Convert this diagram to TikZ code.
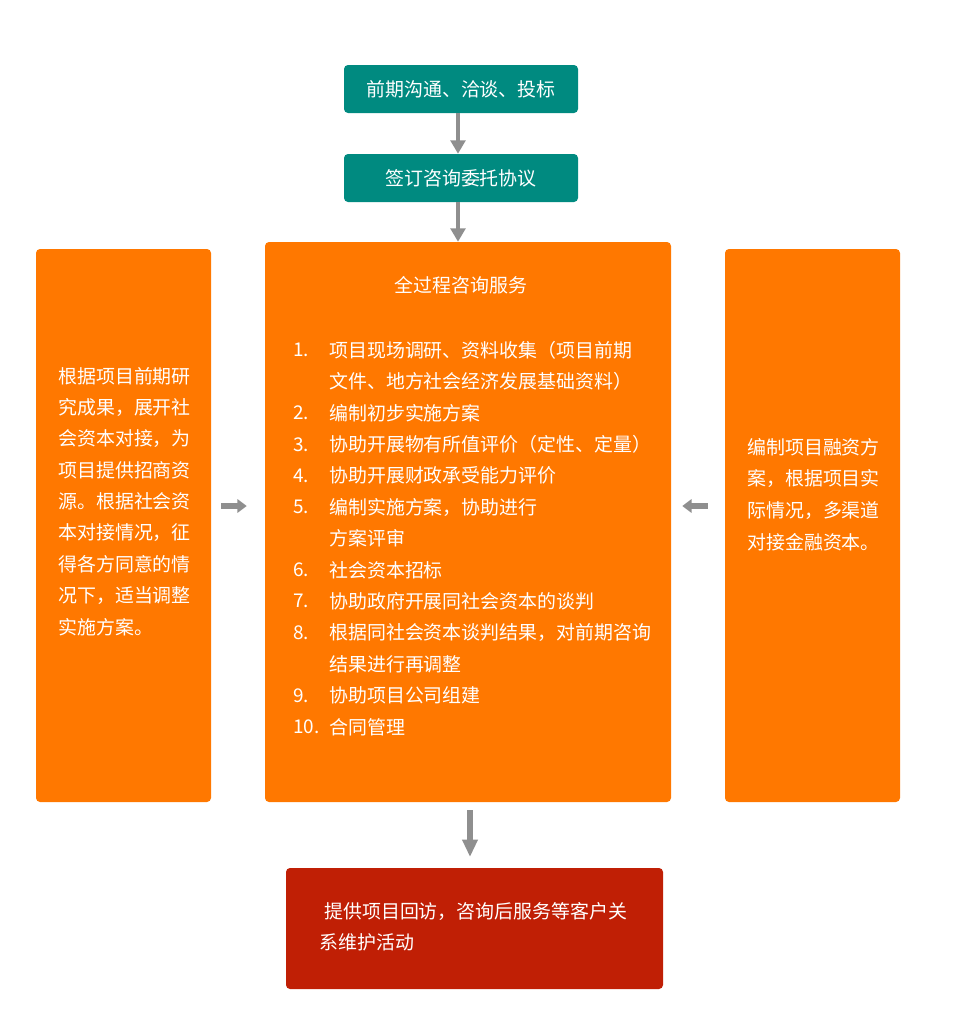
\documentclass[tikz,border=0pt]{standalone}
\usepackage{fontspec}
\setmainfont{Noto Sans CJK SC}
\usetikzlibrary{arrows.meta}
\definecolor{stepteal}{HTML}{008A80}
\definecolor{workorange}{HTML}{FF7800}
\definecolor{afterred}{HTML}{C01F05}
\definecolor{arrowgray}{HTML}{8F8F8F}
\def\px{0.75pt}
\tikzset{
  box/.style={rounded corners=3pt,inner sep=0pt,text=white,font=\fontsize{14.2}{20}\selectfont},
  txt/.style={inner sep=0pt,anchor=west,text=white,font=\fontsize{14.2}{20}\selectfont},
  flowarr/.style={arrowgray,line width=2.4pt,-{Triangle[width=11pt,length=10pt]}},
  sidearr/.style={arrowgray,line width=4pt,-{Triangle[width=10pt,length=7pt]}},
  bigarr/.style={arrowgray,line width=5.2pt,-{Triangle[width=11pt,length=13pt]}}
}
\begin{document}
\begin{tikzpicture}[x=\px,y=-\px]
\useasboundingbox (0,0) rectangle (960,1035);
% boxes
\node[box,fill=stepteal,minimum width=234*\px,minimum height=48*\px] (pre) at (461,89) {前期沟通、洽谈、投标};
\node[box,fill=stepteal,minimum width=234*\px,minimum height=48*\px] (sign) at (461,178) {签订咨询委托协议};
\node[box,fill=workorange,minimum width=406*\px,minimum height=560*\px] (full) at (468,522) {};
\node[box,fill=workorange,minimum width=175*\px,minimum height=553*\px] (left) at (123.5,525.5) {};
\node[box,fill=workorange,minimum width=175*\px,minimum height=553*\px] (right) at (812.5,525.5) {};
\node[box,fill=afterred,minimum width=377*\px,minimum height=121*\px] (after) at (474.5,928.5) {};

% arrows
\draw[flowarr] ([xshift=-2.25pt]pre.south) -- ([xshift=-2.25pt]sign.north);
\draw[flowarr] ([xshift=-2.25pt]sign.south) -- ([xshift=-2.25pt]sign.south |- full.north);
\draw[sidearr,shorten <=7.5pt,shorten >=13.5pt] (left.east |- 0,506) -- (full.west |- 0,506);
\draw[sidearr,shorten <=12.75pt,shorten >=8.25pt] (right.west |- 0,506) -- (full.east |- 0,506);
\draw[bigarr,shorten <=6pt,shorten >=8.25pt] (470,802) -- (470,868);

% texts
\node[txt,anchor=center] (title) at (461,285) {全过程咨询服务};
\foreach \k/\n/\t in {0/1./项目现场调研、资料收集（项目前期,1//文件、地方社会经济发展基础资料）,
  2/2./编制初步实施方案,3/3./协助开展物有所值评价（定性、定量）,4/4./协助开展财政承受能力评价,
  5/5./编制实施方案，协助进行,6//方案评审,7/6./社会资本招标,8/7./协助政府开展同社会资本的谈判,
  9/8./根据同社会资本谈判结果，对前期咨询,10//结果进行再调整,11/9./协助项目公司组建,12/10./合同管理}
{
  \node[txt] (num\k) at (293,350+31.42*\k) {\n};
  \node[txt] (item\k) at (329,350+31.42*\k) {\t};
}
\foreach \t [count=\i from 0] in {根据项目前期研,究成果，展开社,会资本对接，为,项目提供招商资,
  源。根据社会资,本对接情况，征,得各方同意的情,况下，适当调整,实施方案。}
  \node[txt] (lt\i) at (58,376+31.4*\i) {\t};
\foreach \t [count=\i from 0] in {编制项目融资方,案，根据项目实,际情况，多渠道,对接金融资本。}
  \node[txt] (rt\i) at (747,447+31.8*\i) {\t};
\node[txt] (at0) at (324,911) {提供项目回访，咨询后服务等客户关};
\node[txt] (at1) at (319,942) {系维护活动};
\end{tikzpicture}
\end{document}
